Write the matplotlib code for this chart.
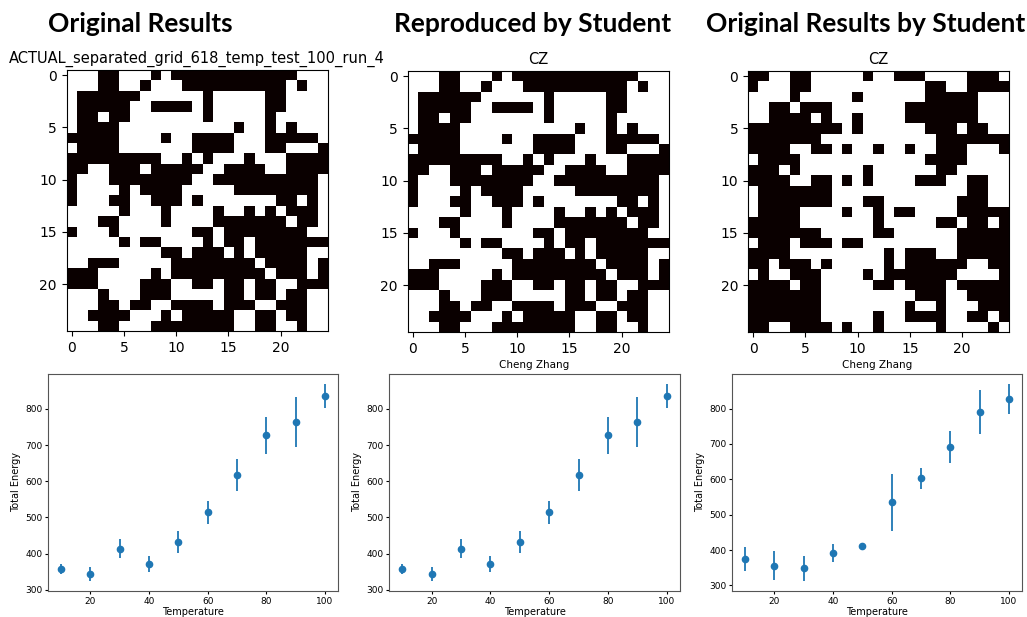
import matplotlib
matplotlib.use("Agg")
import matplotlib.pyplot as plt
import numpy as np

# --- lattice snapshots (1 = black site) ---
grid_original = [
    "0001100010111111111111000",
    "0001100100011111111110100",
    "0111111000000100000110000",
    "0111110011110100000110000",
    "0110110000000100000100000",
    "0111100000000000100101000",
    "1111100001001111000111110",
    "0111100000001111000110001",
    "1111111110010100010001111",
    "1100111011111001111001111",
    "1000111111110011111111110",
    "1000010111100000111111110",
    "1000110011101000000011010",
    "0000010001000010010101110",
    "0001100001000011111110110",
    "1000100000001101111111100",
    "0000010110000101101111111",
    "0000000001101110101111100",
    "0011100000111111110111101",
    "1110000010111111111011101",
    "1110000111001101101100111",
    "0001000111000001101101100",
    "0001101100111101110011100",
    "0011110001011111001101100",
    "0001100011111111001100100",
]
grid_student = [
    "1100110000010011100001110",
    "1000110000000000011001111",
    "0000100000100000011111000",
    "0011011100000001111111000",
    "0011110100100001111111000",
    "1111111110100000011101100",
    "1111111000000000001111111",
    "1111001101001001001110001",
    "0111100000000000011110000",
    "1110100000010000001100000",
    "1111001101010000111001100",
    "0111111100000000000001100",
    "0111111100011000000011100",
    "0111100001001011000011111",
    "1111100000001000001101101",
    "1111111000001100000011111",
    "0111011101100000000011111",
    "1111000000000101110011111",
    "1101110100000101111110011",
    "0100111000010111111100001",
    "1111011000001101111011111",
    "1111111000000000111001111",
    "1111111000000001001000111",
    "1111111000001001111001101",
    "1100111101001000001000010",
]

# --- energy vs temperature ---
temperature = [10, 20, 30, 40, 50, 60, 70, 80, 90, 100]
energy_orig = [358, 343, 414, 372, 432, 514, 618, 727, 764, 835]
err_orig = [13, 19, 26, 22, 30, 32, 44, 51, 69, 34]
energy_student = [374, 356, 348, 392, 411, 535, 603, 691, 791, 828]
err_student = [34, 41, 36, 26, 4, 80, 30, 45, 62, 42]

headers = ["Original Results", "Reproduced by Student", "Original Results by Student"]
header_x = [140, 533, 866]
grid_titles = ["ACTUAL_separated_grid_618_temp_test_100_run_4", "CZ", "CZ"]
line_titles = ["", "Cheng Zhang", "Cheng Zhang"]

W, H = 1027, 617
fig = plt.figure(figsize=(W / 100, H / 100), dpi=100)


def box(l, t, r, b):
    return [l / W, 1 - b / H, (r - l) / W, (b - t) / H]


def to_arr(rows):
    return np.array([[int(c) for c in r] for r in rows])


for x, h in zip(header_x, headers):
    fig.text(x / W, 1 - 24 / H, h, ha="center", va="center",
             fontsize=19, fontweight="bold", family="Lato")

grid_boxes = [(66, 70, 328, 331), (407, 71, 669, 332), (747, 71, 1010, 332)]
grids = [grid_original, grid_original, grid_student]
for b, g, t in zip(grid_boxes, grids, grid_titles):
    ax = fig.add_axes(box(*b))
    ax.imshow(to_arr(g), cmap="hot_r", vmin=0, vmax=1, interpolation="nearest")
    ax.set_title(t, fontsize=10.5, pad=5)
    ax.set_xticks([0, 5, 10, 15, 20])
    ax.set_yticks([0, 5, 10, 15, 20])
    ax.tick_params(labelsize=10)

line_boxes = [(48, 374, 338, 591), (389, 374, 680, 591), (732, 374, 1022, 591)]
series = [(energy_orig, err_orig), (energy_orig, err_orig), (energy_student, err_student)]
for b, (e, er), t in zip(line_boxes, series, line_titles):
    ax = fig.add_axes(box(*b))
    ax.errorbar(temperature, e, yerr=er, fmt="o", color="#1f77b4",
                markersize=4.5, elinewidth=1.3)
    ax.set_xlabel("Temperature", fontsize=7, labelpad=1)
    ax.set_ylabel("Total Energy", fontsize=7, labelpad=3)
    ax.set_xticks([20, 40, 60, 80, 100])
    ax.tick_params(labelsize=6.5, length=2.5, pad=1.5)
    if t:
        ax.set_title(t, fontsize=7.5, pad=4)
    for s in ax.spines.values():
        s.set_color("#555555")

fig.savefig("out.png", dpi=100)
